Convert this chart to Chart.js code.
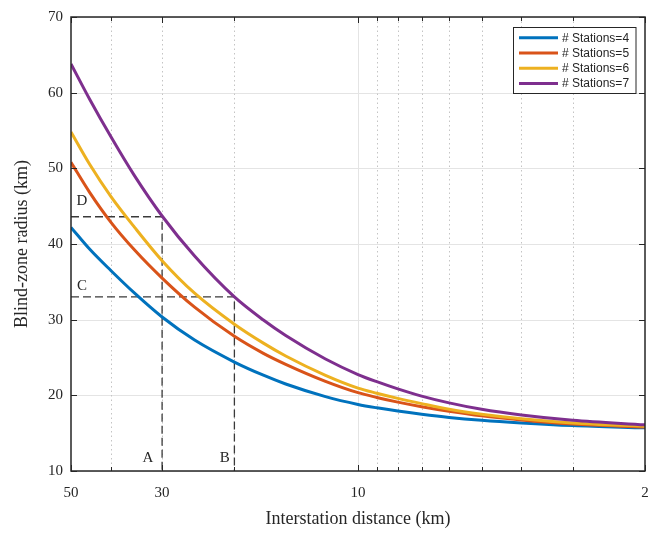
<!DOCTYPE html>
<html>
<head>
<meta charset="utf-8">
<script src="https://cdn.jsdelivr.net/npm/chart.js@4.4.1/dist/chart.umd.min.js"></script>
<style>
html,body{margin:0;padding:0;background:#fff;}
#wrap{width:662px;height:534px;}
</style>
</head>
<body>
<div id="wrap"><canvas id="c" width="662" height="534"></canvas></div>
<script>
// ---- data ----
const distances = [50, 45, 40, 35, 30, 25, 20, 17, 15, 12, 10, 9, 8, 7, 6, 5, 4, 3, 2];
const stations4 = [42.2, 39.3, 36.5, 33.5, 30.35, 27.3, 24.4, 22.66, 21.5, 19.83, 18.8, 18.35, 17.92, 17.5, 17.08, 16.7, 16.35, 16.0, 15.7];
const stations5 = [50.8, 46.8, 42.9, 39.2, 35.5, 31.65, 27.8, 25.55, 24.1, 21.85, 20.35, 19.72, 19.1, 18.5, 17.9, 17.3, 16.75, 16.2, 15.8];
const stations6 = [54.8, 50.5, 46.3, 42.2, 37.8, 33.5, 29.4, 26.9, 25.2, 22.65, 20.96, 20.28, 19.6, 18.9, 18.15, 17.5, 16.9, 16.35, 15.9];
const stations7 = [63.8, 59.1, 54.2, 49.0, 43.7, 38.4, 33.0, 29.95, 27.9, 24.8, 22.75, 21.8, 20.85, 19.9, 19.0, 18.15, 17.4, 16.7, 16.1];
const seriesLabels = ['# Stations=4', '# Stations=5', '# Stations=6', '# Stations=7'];
const seriesValues = [stations4, stations5, stations6, stations7];
const seriesColors = ['#0072BD', '#D95319', '#EDB120', '#7E2F8E'];

// guide lines: point C/D on the y axis, A/B on the x axis
const guideX = [30, 20];
const guideY = [43.6, 33.0];
const guideYLabels = ['D', 'C'];
const guideXLabels = ['A', 'B'];
const guideYLabelPos = [[47.0, 45.7], [47.0, 34.4]];
const guideXLabelPos = [[32.5, 11.7], [21.1, 11.7]];

const xTickLabels = [50, 30, 10, 2];
const xMajorGrid = [10];
const xMinorGrid = [40, 30, 20, 9, 8, 7, 6, 5, 4, 3];
const xMinorTicks = [40, 20, 9, 8, 7, 6, 5, 4, 3];
const yTickValues = [10, 20, 30, 40, 50, 60, 70];
const X_MIN = 2, X_MAX = 50, Y_MIN = 10, Y_MAX = 70;

const serif = "'Liberation Serif', 'Times New Roman', serif";
const sans = "'Liberation Sans', Arial, sans-serif";
const axisColor = '#262626';

const datasets = seriesValues.map((vals, i) => ({
  label: seriesLabels[i],
  data: distances.map((d, j) => ({x: d, y: vals[j]})),
  borderColor: seriesColors[i],
  backgroundColor: seriesColors[i],
  borderWidth: 3,
  pointRadius: 0,
  cubicInterpolationMode: 'monotone',
  fill: false,
  order: 4 - i
}));
guideX.forEach((gx, i) => {
  datasets.push({
    label: 'guide' + i,
    data: [{x: X_MAX, y: guideY[i]}, {x: gx, y: guideY[i]}, {x: gx, y: Y_MIN}],
    borderColor: '#3a3a3a',
    borderWidth: 1.3,
    borderDash: [8, 4],
    pointRadius: 0,
    tension: 0,
    fill: false,
    order: 10
  });
});

function hline(ctx, x1, x2, y) { ctx.beginPath(); ctx.moveTo(x1, y); ctx.lineTo(x2, y); ctx.stroke(); }
function vline(ctx, x, y1, y2) { ctx.beginPath(); ctx.moveTo(x, y1); ctx.lineTo(x, y2); ctx.stroke(); }

const decor = {
  id: 'decor',
  beforeDatasetsDraw(chart) {
    const {ctx, chartArea: a, scales: {x, y}} = chart;
    ctx.save();
    ctx.lineWidth = 1;
    ctx.strokeStyle = '#e4e4e4';
    yTickValues.forEach(v => { const py = Math.round(y.getPixelForValue(v)) + 0.5; hline(ctx, a.left, a.right, py); });
    xMajorGrid.forEach(v => { const px = Math.round(x.getPixelForValue(v)) + 0.5; vline(ctx, px, a.top, a.bottom); });
    ctx.strokeStyle = '#c4c4c4';
    ctx.setLineDash([1.5, 3]);
    xMinorGrid.forEach(v => { const px = Math.round(x.getPixelForValue(v)) + 0.5; vline(ctx, px, a.top, a.bottom); });
    ctx.restore();
  },
  afterDraw(chart) {
    const {ctx, chartArea: a, scales: {x, y}} = chart;
    ctx.save();
    // axes box
    ctx.strokeStyle = axisColor;
    ctx.lineWidth = 1.5;
    ctx.strokeRect(a.left, a.top, a.right - a.left, a.bottom - a.top);
    // ticks (inside)
    ctx.lineWidth = 1;
    yTickValues.forEach(v => {
      const py = Math.round(y.getPixelForValue(v)) + 0.5;
      hline(ctx, a.left, a.left + 6, py);
      hline(ctx, a.right - 6, a.right, py);
    });
    xTickLabels.forEach(v => {
      const px = Math.round(x.getPixelForValue(v)) + 0.5;
      vline(ctx, px, a.bottom, a.bottom - 6);
      vline(ctx, px, a.top, a.top + 6);
    });
    xMinorTicks.forEach(v => {
      const px = Math.round(x.getPixelForValue(v)) + 0.5;
      vline(ctx, px, a.bottom, a.bottom - 4);
      vline(ctx, px, a.top, a.top + 4);
    });
    // point labels
    ctx.fillStyle = axisColor;
    ctx.font = '15px ' + serif;
    ctx.textAlign = 'center';
    ctx.textBaseline = 'middle';
    guideYLabels.forEach((t, i) => ctx.fillText(t, x.getPixelForValue(guideYLabelPos[i][0]), y.getPixelForValue(guideYLabelPos[i][1])));
    guideXLabels.forEach((t, i) => ctx.fillText(t, x.getPixelForValue(guideXLabelPos[i][0]), y.getPixelForValue(guideXLabelPos[i][1])));
    // legend
    const bw = 122.5, bh = 66;
    const bx = a.right - 10 - bw, by = a.top + 10;
    ctx.fillStyle = '#ffffff';
    ctx.fillRect(bx, by, bw, bh);
    ctx.strokeStyle = axisColor;
    ctx.lineWidth = 1;
    ctx.strokeRect(Math.round(bx) + 0.5, Math.round(by) + 0.5, bw, bh);
    ctx.font = '12px ' + sans;
    ctx.textAlign = 'left';
    seriesLabels.forEach((t, i) => {
      const ry = by + 10.7 + i * 15.3;
      ctx.strokeStyle = seriesColors[i];
      ctx.lineWidth = 3;
      hline(ctx, bx + 6.5, bx + 45.5, ry);
      ctx.fillStyle = axisColor;
      ctx.fillText(t, bx + 49.5, ry + 0.5);
    });
    ctx.restore();
  }
};

new Chart(document.getElementById('c'), {
  type: 'line',
  data: {datasets},
  plugins: [decor],
  options: {
    responsive: false,
    devicePixelRatio: 1,
    animation: false,
    parsing: true,
    layout: {padding: {top: 16, right: 17, left: 0, bottom: 0}},
    plugins: {legend: {display: false}, tooltip: {enabled: false}},
    scales: {
      x: {
        type: 'logarithmic',
        reverse: true,
        min: X_MIN,
        max: X_MAX,
        afterBuildTicks: s => { s.ticks = xTickLabels.map(v => ({value: v})); },
        afterFit: s => { s.height = 63; },
        grid: {display: false, drawTicks: false},
        border: {display: false},
        ticks: {
          autoSkip: false, maxRotation: 0, padding: 13,
          font: {family: serif, size: 15}, color: axisColor,
          callback: v => String(v)
        },
        title: {display: true, text: 'Interstation distance (km)', font: {family: serif, size: 18}, color: axisColor, padding: {top: 0, bottom: 4}}
      },
      y: {
        min: Y_MIN,
        max: Y_MAX,
        afterFit: s => { s.width = 71; },
        grid: {display: false, drawTicks: false},
        border: {display: false},
        ticks: {stepSize: 10, padding: 8, font: {family: serif, size: 15}, color: axisColor},
        title: {display: true, text: 'Blind-zone radius (km)', font: {family: serif, size: 18}, color: axisColor, padding: {top: 11, bottom: 0}}
      }
    }
  }
});
</script>
</body>
</html>
